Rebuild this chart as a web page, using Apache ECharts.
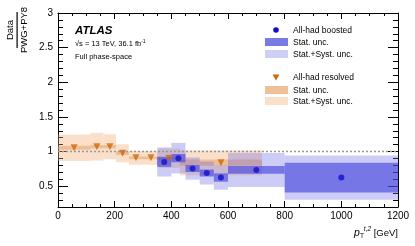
<!DOCTYPE html>
<html><head><meta charset="utf-8">
<script src="https://cdn.jsdelivr.net/npm/echarts@6/dist/echarts.min.js"></script>
<style>html,body{margin:0;padding:0;background:#fff}#c{width:415px;height:246px}</style>
</head><body><div id="c"></div>
<script>
// ---- data ----
const boostedLo   = [350, 400, 450, 500, 550, 600, 800];
const boostedHi   = [400, 450, 500, 550, 600, 800, 1200];
const boostedX    = [375, 425, 475, 525, 575, 700, 1000];
const boostedVal  = [0.85, 0.905, 0.755, 0.69, 0.625, 0.735, 0.625];
const boostedStat = [0.07, 0.06, 0.05, 0.05, 0.06, 0.055, 0.215];
const boostedTot  = [0.21, 0.22, 0.16, 0.165, 0.175, 0.245, 0.32];

const resolvedLo   = [0, 115, 160, 205, 250, 300, 355, 430];
const resolvedHi   = [115, 160, 205, 250, 300, 355, 430, 720];
const resolvedX    = [57, 137, 183, 228, 275, 328, 392, 575];
const resolvedVal  = [1.055, 1.07, 1.07, 0.975, 0.91, 0.91, 0.905, 0.84];
const resolvedStat = [0.03, 0.025, 0.025, 0.025, 0.02, 0.02, 0.03, 0.045];
const resolvedTot  = [0.19, 0.2, 0.18, 0.13, 0.1, 0.1, 0.14, 0.18];

const yMajor = [0.5, 1, 1.5, 2, 2.5, 3];
const FONT = '"Liberation Sans", Arial, Helvetica, sans-serif';

function bands(lo, hi, val, err) {
  return lo.map((l, i) => [l, hi[i], val[i] - err[i], val[i] + err[i]]);
}
function bandSeries(name, data, color, z) {
  return {
    type: 'custom', name, z, xAxisIndex: 0, yAxisIndex: 0,
    renderItem: function (params, api) {
      const p1 = api.coord([api.value(0), api.value(3)]);
      const p2 = api.coord([api.value(1), api.value(2)]);
      const rect = echarts.graphic.clipRectByRect(
        { x: p1[0], y: p1[1], width: p2[0] - p1[0], height: p2[1] - p1[1] },
        { x: params.coordSys.x, y: params.coordSys.y, width: params.coordSys.width, height: params.coordSys.height });
      return rect && { type: 'rect', shape: rect, style: { fill: color } };
    },
    encode: { x: [0, 1], y: [2, 3] },
    data, silent: true, animation: false
  };
}
const chart = echarts.init(document.getElementById('c'), null, { renderer: 'canvas' });
const grid = { left: 58, right: 17, top: 13, bottom: 39 };
const tickStyle = { color: '#000', width: 1 };
const option = {
  animation: false,
  grid,
  xAxis: [
    { type: 'value', min: 0, max: 1200, interval: 200, position: 'bottom',
      axisLine: { lineStyle: { color: '#000', width: 1 } },
      axisTick: { inside: true, length: 6, lineStyle: tickStyle },
      minorTick: { show: true, splitNumber: 4, length: 3, lineStyle: tickStyle },
      splitLine: { show: false },
      axisLabel: { color: '#000', fontSize: 10, fontFamily: FONT, margin: 4, formatter: v => String(v) } },
    { type: 'value', min: 0, max: 1200, interval: 200, position: 'top',
      axisLine: { lineStyle: { color: '#000', width: 1 } },
      axisTick: { inside: true, length: 6, lineStyle: tickStyle },
      minorTick: { show: true, splitNumber: 4, length: 3, lineStyle: tickStyle },
      splitLine: { show: false }, axisLabel: { show: false } }
  ],
  yAxis: [
    { type: 'value', min: 0.2, max: 3, position: 'left',
      axisLine: { show: true, lineStyle: { color: '#000', width: 1 } },
      axisTick: { show: true, inside: true, length: 10, customValues: yMajor, lineStyle: tickStyle },
      axisLabel: { show: true, customValues: yMajor, color: '#000', fontSize: 10, fontFamily: FONT, margin: 5 },
      splitLine: { show: false } },
    { type: 'value', min: 0.2, max: 3, interval: 0.1, position: 'left',
      axisLine: { show: false },
      axisTick: { show: true, inside: true, length: 5, lineStyle: tickStyle },
      axisLabel: { show: false }, splitLine: { show: false } },
    { type: 'value', min: 0.2, max: 3, position: 'right',
      axisLine: { show: true, lineStyle: { color: '#000', width: 1 } },
      axisTick: { show: true, inside: true, length: 10, customValues: yMajor, lineStyle: tickStyle },
      axisLabel: { show: false }, splitLine: { show: false } },
    { type: 'value', min: 0.2, max: 3, interval: 0.1, position: 'right',
      axisLine: { show: false },
      axisTick: { show: true, inside: true, length: 5, lineStyle: tickStyle },
      axisLabel: { show: false }, splitLine: { show: false } }
  ],
  series: [
    bandSeries('res tot', bands(resolvedLo, resolvedHi, resolvedVal, resolvedTot), 'rgba(240,170,110,0.365)', 1),
    bandSeries('res stat', bands(resolvedLo, resolvedHi, resolvedVal, resolvedStat), 'rgba(225,150,90,0.46)', 2),
    bandSeries('boo tot', bands(boostedLo, boostedHi, boostedVal, boostedTot), 'rgba(100,100,230,0.33)', 3),
    bandSeries('boo stat', bands(boostedLo, boostedHi, boostedVal, boostedStat), 'rgba(60,60,220,0.6)', 4),
    { type: 'line', name: 'unity', data: [[0, 1], [1200, 1]], symbol: 'none', z: 5,
      lineStyle: { color: '#999', width: 1.5, type: [2, 2] }, silent: true },
    { type: 'scatter', name: 'All-had resolved', z: 6,
      data: resolvedX.map((x, i) => [x, resolvedVal[i]]),
      symbol: 'triangle', symbolRotate: 180, symbolSize: 7,
      itemStyle: { color: '#cc6a10' } },
    { type: 'scatter', name: 'All-had boosted', z: 7,
      data: boostedX.map((x, i) => [x, boostedVal[i]]),
      symbol: 'circle', symbolSize: 6,
      itemStyle: { color: '#1010c8' } }
  ],
  graphic: [
    // ATLAS label
    { type: 'text', left: 75, top: 25, style: { text: 'ATLAS', font: 'italic bold 11.5px ' + FONT, fill: '#000' } },
    { type: 'text', left: 75, top: 39, style: {
        text: '√s = 13 TeV, 36.1 fb{sup|-1}', font: '7.5px ' + FONT, fill: '#000',
        rich: { sup: { fontSize: 5, fontFamily: FONT, verticalAlign: 'top', padding: [0, 0, 4, 0] } } } },
    { type: 'text', left: 75, top: 53, style: { text: 'Full phase-space', font: '7.5px ' + FONT, fill: '#000' } },
    // legend
    { type: 'circle', shape: { cx: 276, cy: 30, r: 2.8 }, style: { fill: '#1010c8' } },
    { type: 'text', left: 293, top: 26, style: { text: 'All-had boosted', font: '8.5px ' + FONT, fill: '#000' } },
    { type: 'rect', shape: { x: 265, y: 38, width: 23, height: 8 }, style: { fill: 'rgb(122,122,228)' } },
    { type: 'text', left: 293, top: 38, style: { text: 'Stat. unc.', font: '8.5px ' + FONT, fill: '#000' } },
    { type: 'rect', shape: { x: 265, y: 50, width: 23, height: 8 }, style: { fill: 'rgb(206,206,246)' } },
    { type: 'text', left: 293, top: 50, style: { text: 'Stat.+Syst. unc.', font: '8.5px ' + FONT, fill: '#000' } },
    { type: 'polygon', shape: { points: [[272.5, 74.5], [279.5, 74.5], [276, 80.5]] }, style: { fill: '#cc6a10' } },
    { type: 'text', left: 293, top: 73, style: { text: 'All-had resolved', font: '8.5px ' + FONT, fill: '#000' } },
    { type: 'rect', shape: { x: 265, y: 86, width: 23, height: 8 }, style: { fill: 'rgb(238,192,152)' } },
    { type: 'text', left: 293, top: 86, style: { text: 'Stat. unc.', font: '8.5px ' + FONT, fill: '#000' } },
    { type: 'rect', shape: { x: 265, y: 97, width: 23, height: 8 }, style: { fill: 'rgb(249,224,203)' } },
    { type: 'text', left: 293, top: 97, style: { text: 'Stat.+Syst. unc.', font: '8.5px ' + FONT, fill: '#000' } },
    // y-axis title (fraction)
    { type: 'text', x: 10, y: 30, rotation: Math.PI / 2,
      style: { text: 'Data', font: '9.5px ' + FONT, fill: '#000', align: 'center', verticalAlign: 'middle' } },
    { type: 'rect', shape: { x: 16.5, y: 12, width: 1.2, height: 36 }, style: { fill: '#000' }, z: 100 },
    { type: 'text', x: 24, y: 30, rotation: Math.PI / 2,
      style: { text: 'PWG+PY8', font: '9.5px ' + FONT, fill: '#000', align: 'center', verticalAlign: 'middle' } },
    // x-axis title
    { type: 'text', x: 398, y: 233, style: {
        text: '{p|p}{sub|T}{sup|t,2} [GeV]', font: '9.5px ' + FONT, fill: '#000', align: 'right', verticalAlign: 'middle',
        rich: { p: { fontFamily: FONT, fontSize: 10.5, fontStyle: 'italic' },
                sub: { fontFamily: FONT, fontSize: 6.5, padding: [6, 0, 0, 0] },
                sup: { fontFamily: FONT, fontSize: 6.5, fontStyle: 'italic', padding: [0, 0, 7, 0] } } } }
  ]
};
chart.setOption(option);
</script></body></html>
